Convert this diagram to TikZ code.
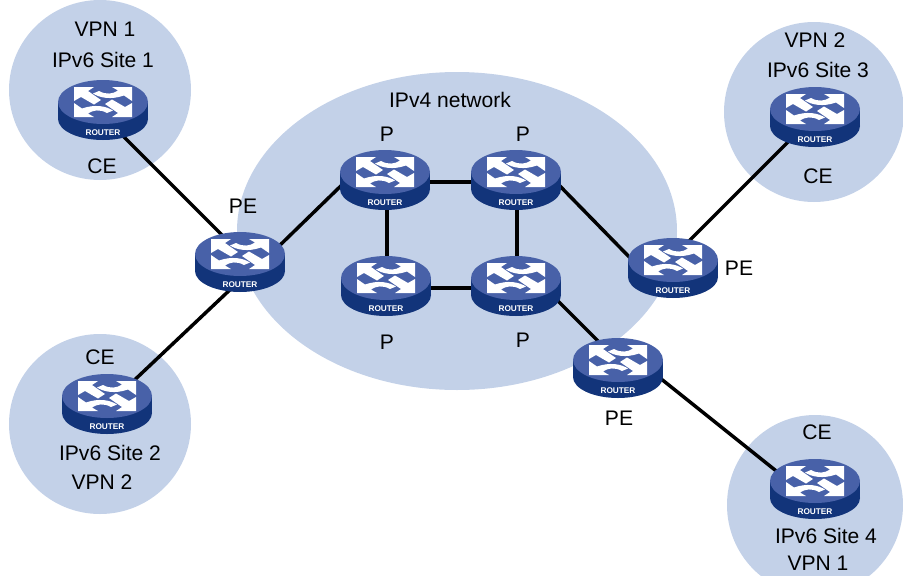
\documentclass[tikz,border=0pt]{standalone}
\usepackage{fontspec}
\setmainfont{Liberation Sans}
\definecolor{siteblue}{RGB}{195,209,232}
\definecolor{rtop}{RGB}{72,97,168}
\definecolor{rside}{RGB}{18,52,122}
\tikzset{
  px/.style={x=0.75pt,y=-0.75pt},
  lbl/.style={font=\fontsize{15.8pt}{18pt}\selectfont,inner sep=0pt,text=black},
  link/.style={draw=black,line width=2.6pt},
  rnode/.style={inner sep=0pt,minimum width=67pt,minimum height=43pt,draw=none},
  rtext/.style={font=\bfseries\fontsize{6.2pt}{7pt}\selectfont,text=white,inner sep=0pt},
  routerpic/.pic={
    \fill[rside] (-45,-31) rectangle (45,-14);
    \fill[rside] (0,-14) ellipse[x radius=45,y radius=21];
    \fill[rtop] (0,-31) ellipse[x radius=45,y radius=22];
    \begin{scope}[shift={(0,-31)}]
      \fill[white] (-29,-15) -- (-9,-15) -- (-15,-11) -- (-2,-2) -- (-9,2.5) -- (-22,-5) -- (-29,-1) -- cycle;
      \fill[white] (29,15) -- (9,15) -- (15,11) -- (2,2) -- (9,-2.5) -- (22,5) -- (29,1) -- cycle;
      \fill[white] (29,-15) -- (9,-15) -- (15,-11.5) .. controls (10,-8) and (3,-7) .. (-4,-11) -- (-10,-8.5) .. controls (-3,-4) and (8,-2) .. (21,-6.5) -- (29,-1) -- cycle;
      \fill[white] (-29,15) -- (-9,15) -- (-15,11.5) .. controls (-10,8) and (-3,7) .. (4,11) -- (10,8.5) .. controls (3,4) and (-8,2) .. (-21,6.5) -- (-29,1) -- cycle;
    \end{scope}
    \node[rtext] at (0,0) {ROUTER};
  }
}
\begin{document}
\begin{tikzpicture}[px]
\useasboundingbox (0,0) rectangle (903,575);
\fill[siteblue] (100,90) ellipse[x radius=91,y radius=90];
\fill[siteblue] (100,424) ellipse[x radius=91,y radius=90];
\fill[siteblue] (814,112) ellipse[x radius=90,y radius=90];
\fill[siteblue] (815,505) ellipse[x radius=88,y radius=90];
\fill[siteblue] (457,231) ellipse[x radius=220,y radius=159];
\foreach \n/\x/\y in {ce1/103/112,ce2/107/406,ce3/815/119,ce4/815/491,pe1/240/264,pe2/673/270,pe3/618/370,p1/385/182,p2/516/182,p3/386/288,p4/516/288}{
  \node[rnode] (\n) at (\x,\y) {};
}
\draw[link] ([shift={(12,16)}]ce1.center) -- ([shift={(-15,-26)}]pe1.center);
\draw[link] ([shift={(18,-17)}]ce2.center) -- ([shift={(-5,21)}]pe1.center);
\draw[link] ([shift={(35,-14)}]pe1.center) -- ([shift={(-35,-5)}]p1.center);
\draw[link] (p1.center) -- (p2.center);
\draw[link] ([shift={(2,0)}]p1.center) -- ([shift={(1,0)}]p3.center);
\draw[link] ([shift={(1,0)}]p2.center) -- ([shift={(1,0)}]p4.center);
\draw[link] (p3.center) -- (p4.center);
\draw[link] ([shift={(39,-1)}]p2.center) -- ([shift={(-33,-2)}]pe2.center);
\draw[link] ([shift={(29,0)}]p4.center) -- ([shift={(-18,-27)}]pe3.center);
\draw[link] ([shift={(12,-25)}]pe2.center) -- ([shift={(-18,14)}]ce3.center);
\draw[link] ([shift={(32,0)}]pe3.center) -- ([shift={(-30,-13)}]ce4.center);
\foreach \x/\y in {103/133,107/427,815/140,815/512,240/285,673/291,618/391,385/203,516/203,386/309,516/309}{
  \pic at (\x,\y) {routerpic};
}
\node[lbl] (t1) at (105,29) {VPN 1};
\node[lbl] (t2) at (103,60) {IPv6 Site 1};
\node[lbl] (t3) at (102,166) {CE};
\node[lbl] (t4) at (243,206) {PE};
\node[lbl] (t5) at (100,357) {CE};
\node[lbl] (t6) at (110,453) {IPv6 Site 2};
\node[lbl] (t7) at (102,482) {VPN 2};
\node[lbl] (t8) at (450,100) {IPv4 network};
\node[lbl] (t9) at (387,134) {P};
\node[lbl] (t10) at (523,134) {P};
\node[lbl] (t11) at (387,342) {P};
\node[lbl] (t12) at (523,340) {P};
\node[lbl] (t13) at (815,40) {VPN 2};
\node[lbl] (t14) at (818,70) {IPv6 Site 3};
\node[lbl] (t15) at (818,176) {CE};
\node[lbl] (t16) at (739,268) {PE};
\node[lbl] (t17) at (619,418) {PE};
\node[lbl] (t18) at (817,432) {CE};
\node[lbl] (t19) at (826,536) {IPv6 Site 4};
\node[lbl] (t20) at (818,563) {VPN 1};
\end{tikzpicture}
\end{document}
